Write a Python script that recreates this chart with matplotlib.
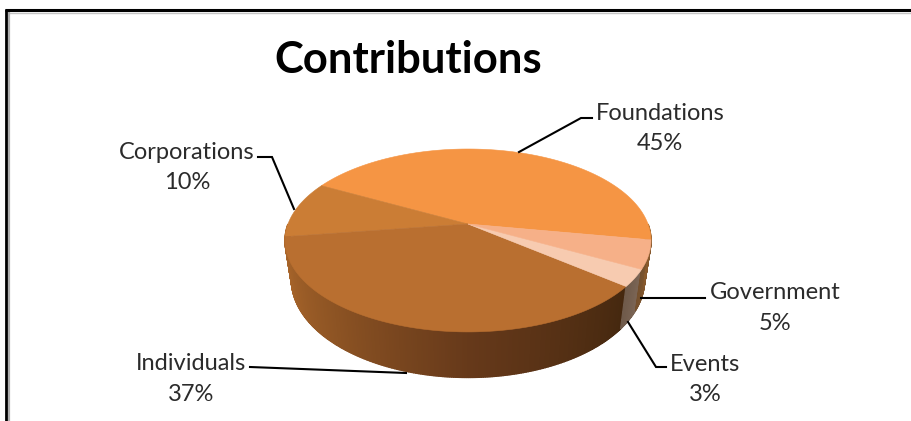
"""
Contributions pie, drawn by hand as a 3D disc in pixel coordinates.
"""
import matplotlib
matplotlib.use('Agg')
import matplotlib.pyplot as plt
from matplotlib.colors import to_rgb
from matplotlib.patches import Polygon
import numpy as np

categories = ['Foundations', 'Corporations', 'Individuals', 'Events', 'Government']
shares = [45, 10, 37, 3, 5]
top_colors = ['#f59544', '#cb7d35', '#b96f30', '#f7cbb0', '#f6b088']

W, H = 912, 421

# disc geometry (pixels)
APEX_X, APEX_Y = 468, 224
RX, RY = 180, 88.5
PERSP = 0.18
START_ANGLE = -10


def rim(deg):
    """Top rim of the disc at a pie angle, with the perspective squeeze."""
    t = np.radians(deg)
    u, v = np.cos(t), np.sin(t)
    d = 1 + PERSP * v
    return APEX_X + RX * u / d, APEX_Y - RY * v / d


def lower(x, y):
    """Same rim point moved down to the bottom face."""
    return APEX_X + (x - APEX_X) * 0.965, y + 38 + 0.07 * (y - APEX_Y)


def mix(stops, f):
    f = min(max(f, 0), 1)
    xs = [s[0] for s in stops]
    return tuple(np.interp(f, xs, [to_rgb(s[1])[i] for s in stops]) for i in range(3))


side_stops = {
    'Individuals': [(0, '#b06a2c'), (0.3, '#8f5524'), (0.62, '#66391a'), (1, '#45280f')],
    'Events': [(0, '#6f5a4a'), (1, '#7c6656')],
    'Government': [(0, '#74502e'), (1, '#8a5a2c')],
    'Foundations': [(0, '#9a6530'), (1, '#9a6530')],
    'Corporations': [(0, '#b06a2c'), (1, '#b06a2c')],
}

fig = plt.figure(figsize=(W / 100, H / 100), dpi=100)
ax = fig.add_axes([0, 0, 1, 1])
ax.set_xlim(0, W)
ax.set_ylim(H, 0)
ax.axis('off')

# slice boundaries come from the shares, running counter-clockwise
angles = START_ANGLE + np.cumsum([0] + shares) * 3.6

# side wall first, only the part facing us
for name, a0, a1 in zip(categories, angles[:-1], angles[1:]):
    lo, hi = max(a0, 180), min(a1, 360 + START_ANGLE)
    spans = [(lo, hi)] if lo < hi else []
    if a0 < 0:
        spans.append((a0, min(a1, 0)))
    for s0, s1 in spans:
        ts = np.linspace(s0, s1, max(int((s1 - s0) * 2), 2) + 1)
        for t0, t1 in zip(ts[:-1], ts[1:]):
            x0, y0 = rim(t0)
            x1, y1 = rim(t1)
            bx0, by0 = lower(x0, y0)
            bx1, by1 = lower(x1, y1)
            f = (t0 - s0) / max(s1 - s0, 1)
            c = mix(side_stops[name], f)
            ax.add_patch(Polygon([(x0, y0), (x1, y1), (bx1, by1), (bx0, by0)],
                                 facecolor=c, edgecolor=c, linewidth=1.0, zorder=2))

# top face
for name, color, a0, a1 in zip(categories, top_colors, angles[:-1], angles[1:]):
    ts = np.linspace(a0, a1, 120)
    xs, ys = rim(ts)
    pts = [(APEX_X, APEX_Y)] + list(zip(xs, ys))
    ax.add_patch(Polygon(pts, facecolor=color, edgecolor=color, linewidth=0.4, zorder=3))

# leader lines
leaders = [
    ([519, 581, 592], [152, 118, 118]),
    ([258, 272, 294], [157, 157, 209]),
    ([641, 705], [298, 298]),
    ([628, 656, 666], [322, 367, 367]),
    ([250, 406], [367, 373]),
]
for lx, ly in leaders:
    ax.plot(lx, ly, color='black', linewidth=1.5, solid_joinstyle='miter', zorder=4)

# labels
label_pos = {
    'Foundations': (660, 128.5),
    'Corporations': (187, 167.5),
    'Individuals': (191, 379),
    'Events': (705, 379.5),
    'Government': (775, 308),
}
for name, share in zip(categories, shares):
    x, y = label_pos[name]
    ax.text(x, y, f'{name}\n{share}%', ha='center', va='center', fontsize=17,
            family='Lato', color='#2b2b2b', linespacing=1.55, zorder=5)

ax.text(408, 60, 'Contributions', ha='center', va='center', fontsize=31.4,
        family='Lato', fontweight='bold', color='black', zorder=5)

# border round the pasted picture: black line with a grey inner shadow
ax.plot([5, W], [10, 10], color='black', linewidth=2.2, solid_capstyle='butt', zorder=6)
ax.plot([6.5, 6.5], [9, H], color='black', linewidth=2.0, solid_capstyle='butt', zorder=6)
ax.plot([9, W], [12.7, 12.7], color='#c4c4c4', linewidth=1.0, solid_capstyle='butt', zorder=5)
ax.plot([9, 9], [12, H], color='#b0b0b0', linewidth=1.6, solid_capstyle='butt', zorder=5)

fig.savefig('out.png', dpi=100, facecolor='white')
plt.close(fig)
